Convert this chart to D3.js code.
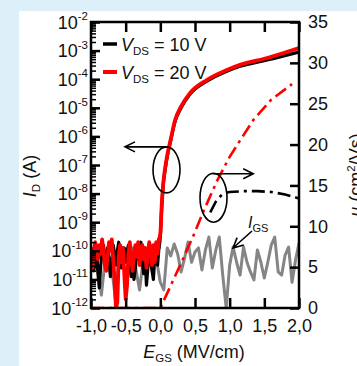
<!DOCTYPE html>
<html lang="en">
<head>
<meta charset="UTF-8">
<title>Transfer curve and mobility</title>
<script src="https://d3js.org/d3.v7.min.js"></script>
<style>
    body {margin:0; background:#ddf0f9;}
    text {font-family: "Liberation Sans", Arial, sans-serif; fill:#111;}
    .axis path {display:none;}
    .axis line {stroke:#000; stroke-width:2.5;}
    .axis text {font-size:18px; fill:#111;}
</style>
</head>
<body>
<div id="chart"></div>
<script>

    // off state noise, log10(I_D), E = -1.00 ... -0.02 step 0.02
    var offStart = -1.0, offStep = 0.02;
    var redOff = [-9.9,-10.6,-10.2,-9.7,-9.9,-10.3,-9.8,-10.1,-9.6,-10.0,
                  -10.5,-10.7,-10.2,-9.7,-10.0,-9.6,-10.3,-11.0,-12.0,-11.8,
                  -10.2,-9.8,-10.4,-9.9,-10.8,-11.7,-11.2,-10.1,-9.7,-10.3,
                  -10.7,-10.1,-9.8,-10.2,-9.7,-10.5,-10.0,-9.8,-10.3,-9.9,
                  -10.6,-10.1,-9.7,-10.0,-10.5,-9.8,-10.4,-9.7,-10.1,-9.6];
    var blackOff = [-10.2,-10.0,-10.7,-10.4,-9.9,-10.8,-11.3,-10.5,-10.1,-9.8,
                    -10.2,-10.6,-9.9,-10.4,-10.9,-10.3,-9.8,-10.1,-10.5,-10.0,
                    -9.7,-10.3,-10.6,-10.1,-9.9,-10.4,-10.0,-9.8,-10.5,-10.9,
                    -10.2,-11.0,-10.6,-9.9,-10.3,-10.0,-9.7,-10.4,-10.8,-10.2,
                    -11.2,-10.6,-9.9,-10.3,-10.7,-11.0,-10.2,-9.8,-10.5,-9.9];

    // on state, log10(I_D)
    var onE     = [0.0, 0.02, 0.04, 0.07, 0.1, 0.15, 0.21, 0.3, 0.43, 0.67, 0.96, 1.15, 1.54, 2.0];
    var redOn   = [-9.4, -8.4, -7.7, -7.1, -6.65, -6.1, -5.45, -4.95, -4.48, -4.03, -3.68, -3.5, -3.26, -2.91];
    var blackOn = [-9.5, -8.5, -7.75, -7.15, -6.7, -6.15, -5.5, -5.0, -4.52, -4.07, -3.72, -3.55, -3.33, -3.05];

    // gate current, log10(I_GS), E = -1.00 ... 2.00 step 0.05
    var igsStart = -1.0, igsStep = 0.05;
    var igs = [-10.15,-10.25,-10.67,-11.55,-10.4,-10.15,-10.6,-11.65,-10.4,-9.97,
               -10.4,-10.25,-9.9,-10.67,-11.37,-10.4,-9.97,-10.25,-9.83,-10.4,
               -11.1,-11.37,-9.9,-10.18,-9.76,-10.11,-10.74,-10.25,-9.69,-10.4,
               -10.04,-9.9,-10.67,-9.97,-9.52,-10.6,-9.97,-9.52,-10.85,-12.0,
               -10.5,-9.87,-10.4,-10.85,-9.87,-10.4,-10.74,-11.02,-9.97,-10.4,
               -10.95,-10.4,-9.8,-9.52,-10.74,-10.85,-10.15,-9.87,-11.1,-10.32,-9.73];

    // mobility (cm2/Vs)
    var muRedE   = [-1.0, 0.0, 0.3, 0.5, 0.62, 0.82, 1.0, 1.15, 1.34, 1.6, 1.9];
    var muRed    = [0, 0, 5.5, 9.3, 11.8, 15.6, 18.5, 20.5, 23.0, 25.5, 27.4];
    var muBlackE = [0.72, 0.8, 0.9, 1.0, 1.2, 1.4, 1.6, 1.8, 2.0];
    var muBlack  = [11.7, 13.0, 14.0, 14.2, 14.3, 14.3, 14.2, 13.9, 13.4];

    var xTicks = [-1, -0.5, 0, 0.5, 1, 1.5, 2];
    var decades = [-12, -11, -10, -9, -8, -7, -6, -5, -4, -3, -2];
    var muTicks = [0, 5, 10, 15, 20, 25, 30, 35];

    var W = 357, H = 366;
    var pl = 91, pr = 299, pt = 22, pb = 308;

    var x = d3.scaleLinear().domain([-1, 2]).range([pl, pr]);
    var yI = d3.scaleLog().domain([1e-12, 1e-2]).range([pb, pt]);
    var yMu = d3.scaleLinear().domain([0, 35]).range([pb, pt]);

    var svg = d3.select("#chart").append("svg")
        .attr("width", W)
        .attr("height", H);

    svg.append("rect").attr("width", W).attr("height", H).attr("fill", "#ddf0f9");
    svg.append("rect").attr("x", 19).attr("y", 11)
        .attr("width", W - 19).attr("height", H - 11).attr("fill", "#fff");

    svg.append("clipPath").attr("id", "plot")
        .append("rect").attr("x", pl).attr("y", pt)
        .attr("width", pr - pl).attr("height", pb - pt);

    var plot = svg.append("g").attr("clip-path", "url(#plot)");

    function pts(es, vs) { return es.map(function(e, i) { return [e, vs[i]]; }); }
    function grid(start, step, vs) { return vs.map(function(v, i) { return [start + i * step, v]; }); }

    var noiseLine = d3.line()
        .x(function(d) { return x(d[0]); })
        .y(function(d) { return yI(Math.pow(10, d[1])); });

    var smoothLine = d3.line()
        .x(function(d) { return x(d[0]); })
        .y(function(d) { return yI(Math.pow(10, d[1])); })
        .curve(d3.curveMonotoneX);

    var muLine = d3.line()
        .x(function(d) { return x(d[0]); })
        .y(function(d) { return yMu(d[1]); });

    // gate current (grey)
    plot.append("path")
        .attr("d", noiseLine(grid(igsStart, igsStep, igs)))
        .attr("fill", "none").attr("stroke", "#858585").attr("stroke-width", 3)
        .attr("stroke-linejoin", "round");

    // mobility, dash-dot
    plot.append("path")
        .attr("d", muLine(pts(muBlackE, muBlack)))
        .attr("fill", "none").attr("stroke", "#000").attr("stroke-width", 2.6)
        .attr("stroke-dasharray", "13,5,3,5");
    plot.append("path")
        .attr("d", muLine(pts(muRedE, muRed)))
        .attr("fill", "none").attr("stroke", "#f00").attr("stroke-width", 2.6)
        .attr("stroke-dasharray", "13,5,3,5");

    // transfer curves: noisy off part + smooth on part
    function transfer(off, on, color, w) {
        var offPts = grid(offStart, offStep, off);
        var onPts = [offPts[offPts.length - 1]].concat(pts(onE, on));
        [noiseLine(offPts), smoothLine(onPts)].forEach(function(d) {
            plot.append("path").attr("d", d)
                .attr("fill", "none").attr("stroke", color).attr("stroke-width", w)
                .attr("stroke-linejoin", "round").attr("stroke-linecap", "round");
        });
    }
    transfer(blackOff, blackOn, "#000", 3.2);
    transfer(redOff, redOn, "#f00", 3.8);

    // axes
    svg.append("g").attr("class", "axis")
        .attr("transform", "translate(0," + pb + ")")
        .call(d3.axisBottom(x).tickValues(xTicks).tickSize(-10).tickPadding(11)
            .tickFormat(function(d) { return d3.format(".1f")(d).replace(".", ",").replace("\u2212", "-"); }));
    svg.append("g").attr("class", "axis")
        .attr("transform", "translate(0," + pt + ")")
        .call(d3.axisTop(x).tickValues(xTicks).tickSize(-10).tickFormat(""));

    svg.append("g").attr("class", "axis")
        .attr("transform", "translate(" + pr + ",0)")
        .call(d3.axisRight(yMu).tickValues(muTicks).tickSize(-9).tickPadding(9));

    var minors = [];
    decades.slice(0, -1).forEach(function(p) {
        for (var m = 2; m < 10; m++) minors.push(m * Math.pow(10, p));
    });
    svg.append("g").attr("class", "axis")
        .attr("transform", "translate(" + pl + ",0)")
        .call(d3.axisLeft(yI).tickValues(decades.map(function(p) { return Math.pow(10, p); }))
            .tickSize(-9).tickFormat(""));
    svg.append("g").attr("class", "axis")
        .attr("transform", "translate(" + pl + ",0)")
        .call(d3.axisLeft(yI).tickValues(minors).tickSize(-5).tickFormat(""))
        .selectAll("line").style("stroke-width", 1.5);

    var ylab = svg.selectAll(".ylab").data(decades).enter().append("text")
        .attr("class", "ylab")
        .attr("x", 88)
        .attr("y", function(p) { return yI(Math.pow(10, p)) + 6.5; })
        .attr("text-anchor", "end")
        .style("font-size", "18px");
    ylab.append("tspan").text("10");
    ylab.append("tspan").attr("dy", -8.5).style("font-size", "11.5px").text(function(p) { return p; });

    // frame
    svg.append("rect")
        .attr("x", pl).attr("y", pt)
        .attr("width", pr - pl).attr("height", pb - pt)
        .attr("fill", "none").attr("stroke", "#000").attr("stroke-width", 2.5);

    // axis titles
    var xt = svg.append("text").attr("x", 194).attr("y", 358)
        .attr("text-anchor", "middle").style("font-size", "18px");
    xt.append("tspan").style("font-style", "italic").text("E");
    xt.append("tspan").attr("dy", 4).style("font-size", "11.5px").text("GS");
    xt.append("tspan").attr("dy", -4).text(" (MV/cm)");

    var yt = svg.append("text").attr("transform", "translate(36,176) rotate(-90)")
        .attr("text-anchor", "middle").style("font-size", "18px");
    yt.append("tspan").style("font-style", "italic").text("I");
    yt.append("tspan").attr("dy", 4).style("font-size", "11.5px").text("D");
    yt.append("tspan").attr("dy", -4).text(" (A)");

    var mt = svg.append("text").attr("transform", "translate(362,175) rotate(-90)")
        .attr("text-anchor", "middle").style("font-size", "18px");
    mt.append("tspan").style("font-style", "italic").text("\u03bc");
    mt.append("tspan").text(" (cm");
    mt.append("tspan").attr("dy", -7).style("font-size", "11.5px").text("2");
    mt.append("tspan").attr("dy", 7).text("/Vs)");

    // legend
    var legend = [{label: "10 V", color: "#000", w: 3.5, y: 44}, {label: "20 V", color: "#f00", w: 4, y: 72}];
    legend.forEach(function(l) {
        svg.append("line").attr("x1", 103).attr("x2", 117).attr("y1", l.y).attr("y2", l.y)
            .attr("stroke", l.color).attr("stroke-width", l.w);
        var t = svg.append("text").attr("x", 121).attr("y", l.y + 7).style("font-size", "18px");
        t.append("tspan").style("font-style", "italic").text("V");
        t.append("tspan").attr("dy", 4).style("font-size", "11.5px").text("DS");
        t.append("tspan").attr("dy", -4).text(" = " + l.label);
    });

    // annotations
    function arrow(x1, y1, x2, y2) {
        var a = Math.atan2(y2 - y1, x2 - x1), L = 10, w = 5;
        var bx = x2 - L * Math.cos(a), by = y2 - L * Math.sin(a);
        svg.append("path")
            .attr("d", "M" + x1 + "," + y1 + "L" + x2 + "," + y2 +
                "M" + (bx + w * Math.sin(a)) + "," + (by - w * Math.cos(a)) + "L" + x2 + "," + y2 +
                "L" + (bx - w * Math.sin(a)) + "," + (by + w * Math.cos(a)))
            .attr("fill", "none").attr("stroke", "#000").attr("stroke-width", 1.6);
    }

    var e1 = {cx: x(0.089), cy: yI(Math.pow(10, -7.17))};
    svg.append("ellipse").attr("cx", e1.cx).attr("cy", e1.cy).attr("rx", 13.5).attr("ry", 23)
        .attr("fill", "none").attr("stroke", "#000").attr("stroke-width", 1.6);
    arrow(e1.cx, e1.cy - 23, x(-0.51), e1.cy - 23);

    var e2 = {cx: x(0.767), cy: yMu(13.5)};
    svg.append("ellipse").attr("cx", e2.cx).attr("cy", e2.cy).attr("rx", 13.5).attr("ry", 24.5)
        .attr("fill", "none").attr("stroke", "#000").attr("stroke-width", 1.6);
    arrow(e2.cx - 1, e2.cy - 24, x(1.34), e2.cy - 24);

    var ig = svg.append("text").attr("x", 248).attr("y", 228).style("font-size", "16px");
    ig.append("tspan").style("font-style", "italic").text("I");
    ig.append("tspan").attr("dy", 4).style("font-size", "11px").text("GS");
    arrow(252, 231, 233, 248);

</script>
</body>
</html>
